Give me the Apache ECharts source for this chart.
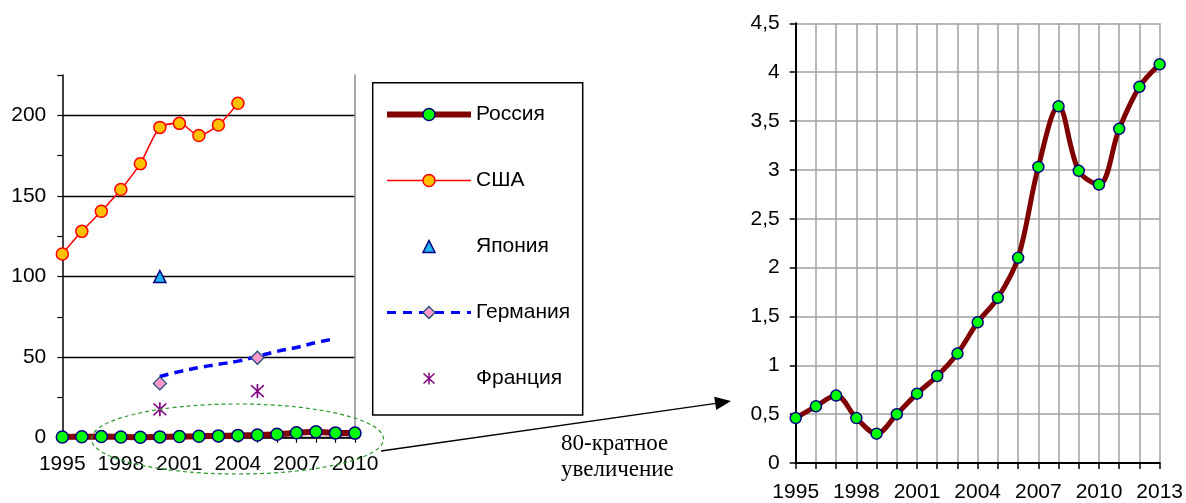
<!DOCTYPE html>
<html><head><meta charset="utf-8">
<script src="https://cdn.jsdelivr.net/npm/echarts@6/dist/echarts.min.js"></script>
<style>html,body{margin:0;padding:0;background:#fff}#c{width:1186px;height:503px}</style>
</head><body><div id="c"></div>
<script>
// ---- data ----
const yearsLeft = ['1995','1996','1997','1998','1999','2000','2001','2002','2003','2004','2005','2006','2007','2008','2009','2010'];
const yearsRight = ['1995','1996','1997','1998','1999','2000','2001','2002','2003','2004','2005','2006','2007','2008','2009','2010','2011','2012','2013'];
const russia = [0.46,0.58,0.69,0.46,0.30,0.50,0.71,0.89,1.12,1.44,1.69,2.10,3.03,3.65,2.99,2.85,3.42,3.85,4.08];
const usa = [114,128,140.5,154,170,192.5,195,187.5,194,207.5,null,null,null,null,null,null];
const japan = [null,null,null,null,null,100,null,null,null,null,null,null,null,null,null,null];
const germany = [null,null,null,null,null,33.7,null,null,null,null,49.6,null,null,null,null,null];
const germanyTrend = [null,null,null,null,null,38,41,43.5,45.5,47.5,50.5,53.5,56,59,61.5,null];
const france = [null,null,null,null,null,17.6,null,null,null,null,28.9,null,null,null,null,null];
const legendNames = ['Россия','США','Япония','Германия','Франция'];
const noteLines = ['80-кратное','увеличение'];

const FONT = 'Liberation Sans, Arial, sans-serif';
const FS = 21;
const asterisk = 'path://M8.9,0 L11.1,0 L11.1,20 L8.9,20 Z M0.8,2.4 L2.4,0.8 L19.2,17.6 L17.6,19.2 Z M17.6,0.8 L19.2,2.4 L2.4,19.2 L0.8,17.6 Z';

const chart = echarts.init(document.getElementById('c'));
const comma = v => String(v).replace('.', ',');
const hidden = {opacity: 0, width: 0};

chart.setOption({
  animation: false,
  backgroundColor: '#fff',
  textStyle: {fontFamily: FONT},
  grid: [
    {left: 62.3, right: 831, top: 75, bottom: 65.3},
    {left: 795.7, right: 26, top: 23.3, bottom: 37}
  ],
  xAxis: [
    {type: 'category', gridIndex: 0, data: yearsLeft, boundaryGap: false,
     axisLine: {lineStyle: {color: '#000', width: 1.5}},
     axisTick: {interval: 0, length: 5, lineStyle: {color: '#000', width: 1.2}},
     axisLabel: {interval: 2, color: '#000', fontSize: FS, fontFamily: FONT, margin: 16},
     splitLine: {show: false}},
    {type: 'category', gridIndex: 1, data: yearsRight, boundaryGap: false,
     axisLine: {lineStyle: {color: '#000', width: 2}},
     axisTick: {interval: 0, length: 6, lineStyle: {color: '#000', width: 1.5}},
     axisLabel: {interval: 2, color: '#000', fontSize: FS, fontFamily: FONT, margin: 19},
     splitLine: {show: true, interval: 0, lineStyle: {color: '#a0a0a0', width: 1.5}}}
  ],
  yAxis: [
    {type: 'value', gridIndex: 0, min: 0, max: 225, interval: 25,
     axisLine: {show: true, lineStyle: {color: '#000', width: 1.5}},
     axisTick: {show: true, length: 5, lineStyle: {color: '#000', width: 1.2}},
     axisLabel: {color: '#000', fontSize: FS, fontFamily: FONT, margin: 16,
       formatter: v => (v % 50 === 0 ? String(v) : '')},
     splitLine: {show: true, lineStyle: {color: ['#000', 'rgba(0,0,0,0)'], width: 1.4}}},
    {type: 'value', gridIndex: 0, min: 0, max: 225, interval: 25, position: 'right',
     axisLine: {show: true, lineStyle: {color: '#8c8c8c', width: 1.5}},
     axisTick: {show: false}, axisLabel: {show: false}, splitLine: {show: false}},
    {type: 'value', gridIndex: 1, min: 0, max: 4.5, interval: 0.5,
     axisLine: {show: true, lineStyle: {color: '#000', width: 2}},
     axisTick: {show: true, length: 6, lineStyle: {color: '#000', width: 1.5}},
     axisLabel: {color: '#000', fontSize: FS, fontFamily: FONT, margin: 16, formatter: comma},
     splitLine: {show: true, lineStyle: {color: '#a0a0a0', width: 1.5}}}
  ],
  legend: {
    orient: 'vertical', left: 379, top: 99, itemWidth: 84, itemHeight: 15, itemGap: 45,
    data: legendNames,
    lineStyle: {width: 'inherit'},
    itemStyle: {borderWidth: 'inherit'},
    textStyle: {fontSize: FS, color: '#000', fontFamily: FONT},
    selectedMode: false
  },
  series: [
    {name: 'США', type: 'line', xAxisIndex: 0, yAxisIndex: 0, data: usa, smooth: 0.25, showAllSymbol: true,
     lineStyle: {color: '#ff0000', width: 1.5}, symbol: 'circle', symbolSize: 12,
     itemStyle: {color: '#ffc000', borderColor: '#ff0000', borderWidth: 1.5}, z: 3},
    {name: 'Япония', type: 'line', xAxisIndex: 0, yAxisIndex: 0, data: japan, showAllSymbol: true,
     lineStyle: hidden, symbol: 'triangle', symbolSize: 12,
     itemStyle: {color: '#1fb5f0', borderColor: '#000080', borderWidth: 1.5}, z: 3},
    {name: 'Германия', type: 'line', xAxisIndex: 0, yAxisIndex: 0, data: germany, connectNulls: false, showAllSymbol: true,
     lineStyle: {color: '#0000ff', width: 3, type: [9, 7]}, symbol: 'diamond', symbolSize: 13,
     itemStyle: {color: '#ff99cc', borderColor: '#1f4e79', borderWidth: 1.3}, z: 4},
    {name: 'Германия-тренд', type: 'line', xAxisIndex: 0, yAxisIndex: 0, data: germanyTrend, smooth: true,
     showSymbol: false, symbol: 'none',
     lineStyle: {color: '#0000ff', width: 3.5, type: [9, 6]}, z: 3},
    {name: 'Франция', type: 'line', xAxisIndex: 0, yAxisIndex: 0, data: france, showAllSymbol: true,
     lineStyle: hidden, symbol: asterisk, symbolSize: 14,
     itemStyle: {color: '#800080', borderWidth: 0}, z: 3},
    {name: 'Россия', type: 'line', xAxisIndex: 0, yAxisIndex: 0, data: russia.slice(0, yearsLeft.length), smooth: 0.3, showAllSymbol: true,
     lineStyle: {color: '#800000', width: 6}, symbol: 'circle', symbolSize: 12,
     itemStyle: {color: '#00ff00', borderColor: '#000080', borderWidth: 1.5}, z: 5},
    {name: 'Россия', type: 'line', xAxisIndex: 1, yAxisIndex: 2, data: russia, smooth: 0.35, showAllSymbol: true,
     lineStyle: {color: '#800000', width: 5}, symbol: 'circle', symbolSize: 11,
     itemStyle: {color: '#00ff00', borderColor: '#000080', borderWidth: 1.5}, z: 5}
  ],
  graphic: [
    {type: 'rect', shape: {x: 372.7, y: 82.7, width: 210, height: 332.3},
     style: {fill: 'none', stroke: '#000', lineWidth: 1.5}, z: 1},
    {type: 'ellipse', shape: {cx: 237.5, cy: 439, rx: 146, ry: 35},
     style: {fill: 'none', stroke: '#2e9a2e', lineWidth: 1.2, lineDash: [4, 3]}, z: 10},
    {type: 'line', shape: {x1: 381, y1: 451, x2: 716, y2: 403.3},
     style: {stroke: '#000', lineWidth: 1.3}, z: 10},
    {type: 'polygon', shape: {points: [[731, 401], [716.2, 410], [714.2, 396.8]]},
     style: {fill: '#000'}, z: 10},
    {type: 'text', left: 561, top: 432, style: {text: noteLines[0], font: '23px "Liberation Serif", "Times New Roman", serif', fill: '#000'}, z: 10},
    {type: 'text', left: 561, top: 458, style: {text: noteLines[1], font: '23px "Liberation Serif", "Times New Roman", serif', fill: '#000'}, z: 10}
  ]
});
</script>
</body></html>
